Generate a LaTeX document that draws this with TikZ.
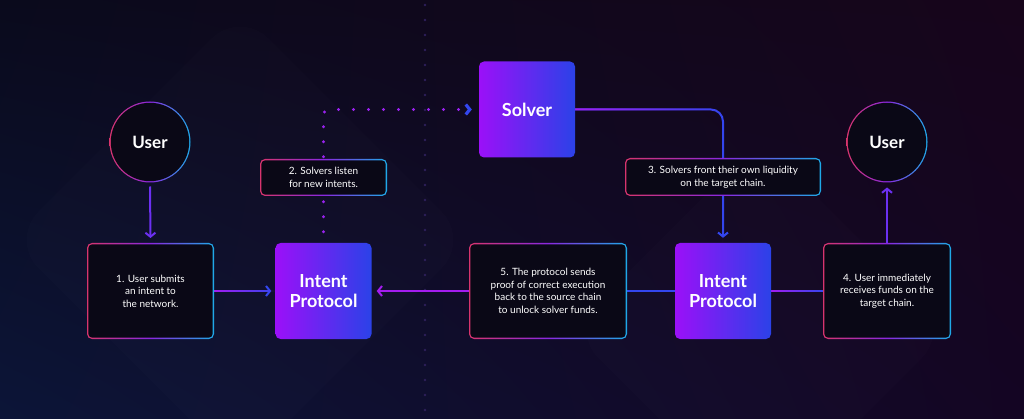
\documentclass[tikz,border=0pt]{standalone}
\usepackage{fontspec}
\setmainfont{Lato}
\usetikzlibrary{arrows.meta,shadings,fadings}

\pgfdeclarelayer{bg}
\pgfdeclarelayer{wires}
\pgfdeclarelayer{rims}
\pgfsetlayers{bg,wires,rims,main}

\definecolor{bgUL}{HTML}{0A0A1C}
\definecolor{bgUR}{HTML}{17051B}
\definecolor{bgLL}{HTML}{0C1538}
\definecolor{bgLR}{HTML}{140523}
\definecolor{cardfill}{HTML}{0A0816}
\definecolor{rimL}{HTML}{D8346E}
\definecolor{rimM}{HTML}{8A28E0}
\definecolor{rimR}{HTML}{1EAAE8}
\definecolor{hubA}{HTML}{9B10F8}
\definecolor{hubB}{HTML}{2B42E8}
\definecolor{wirePurple}{HTML}{A41CF0}
\definecolor{wireBlue}{HTML}{3346EE}
\definecolor{wireViolet}{HTML}{6C30F2}
\definecolor{dotc}{HTML}{9A22F0}
\definecolor{divc}{HTML}{2D1F5A}

\tikzfading[name=fadeout, left color=transparent!0, right color=transparent!100]

\tikzset{
    stepbox/.style={rectangle, inner sep=0pt, outer sep=0pt, align=center, text=white,
        font=\fontsize{10}{12.6}\selectfont},
    hub/.style={rectangle, rounded corners=5pt, minimum width=96pt, minimum height=96pt,
        inner sep=0pt, left color=hubA, right color=hubB, text=white, align=center,
        font=\fontsize{18}{19.5}\selectfont\bfseries},
    person/.style={circle, minimum size=81pt, inner sep=0pt, outer sep=0pt, text=white,
        font=\fontsize{17}{20}\selectfont\bfseries},
    rimshade/.style={left color=rimL, right color=rimR, middle color=rimM},
    wire/.style={line width=2pt},
    glowstart/.style={wire, wirePurple, path fading=fadeout},
    flow/.style={-{Straight Barb[length=4pt,width=10pt,color=#1]}},
    flow/.default=wireBlue,
    dots/.style={dotc, line width=3.2pt, line cap=round, dash pattern=on 0pt off 15pt}
}

\begin{document}
\begin{tikzpicture}[x=1pt, y=-1pt]
    \useasboundingbox (0,0) rectangle (1024,419);
    \begin{pgfonlayer}{bg}
        \shade[upper left=bgUL, upper right=bgUR, lower left=bgLL, lower right=bgLR] (0,0) rectangle (1024,419);
        \fill[white, opacity=.012, rounded corners=40pt] (240,10) -- (470,240) -- (240,470) -- (10,240) -- cycle;
        \fill[white, opacity=.01, rounded corners=40pt] (760,140) -- (950,330) -- (760,520) -- (570,330) -- cycle;
        \draw[divc, line width=2.6pt, line cap=round, dash pattern=on 0pt off 15pt] (425,5) -- (425,419);
    \end{pgfonlayer}

    % nodes
    \node[person] (userL) at (150,142) {User};
    \node[person] (userR) at (887,142) {User};
    \node[stepbox, minimum width=127pt, minimum height=96pt] (step1) at (150.5,291)
        {1. User submits\\an intent to\\the network.};
    \node[hub] (protoL) at (323.5,291) {Intent\\Protocol};
    \node[stepbox, minimum width=127pt, minimum height=37pt] (note2) at (323.5,177.5)
        {2. Solvers listen\\for new intents.};
    \node[hub] (solver) at (527,109.5) {Solver};
    \node[stepbox, minimum width=196pt, minimum height=38pt] (note3) at (723,177)
        {3. Solvers front their own liquidity\\on the target chain.};
    \node[hub] (protoR) at (723,291) {Intent\\Protocol};
    \node[stepbox, minimum width=158pt, minimum height=96pt] (step5) at (548,291)
        {5. The protocol sends\\proof of correct execution\\back to the source chain\\to unlock solver funds.};
    \node[stepbox, minimum width=128pt, minimum height=96pt] (step4) at (887,291)
        {4. User immediately\\receives funds on the\\target chain.};

    % gradient rims
    \begin{pgfonlayer}{rims}
        \foreach \n in {step1,step4,step5,note2,note3} {
            \shade[rimshade, rounded corners=5pt] (\n.south west) rectangle (\n.north east);
            \fill[cardfill, rounded corners=4pt] ([shift={(1.3pt,1.3pt)}]\n.south west)
                rectangle ([shift={(-1.3pt,-1.3pt)}]\n.north east);
        }
        \foreach \n in {userL,userR} {
            \shade[rimshade] (\n) circle (40.5pt);
            \fill[cardfill] (\n) circle (39.2pt);
        }
    \end{pgfonlayer}

    % connectors
    \begin{pgfonlayer}{wires}
        \draw[wire, wireViolet, flow=wireViolet, shorten <=4pt, shorten >=5pt] (userL.south) -- (step1.north);
        \draw[wire, wireBlue, flow, shorten >=4pt] (step1) -- (protoL);
        \draw[glowstart] ([yshift=3pt]step1.east) (step1) -- (protoL);
        \draw[dots, rounded corners=5pt, flow] ([yshift=11pt]protoL.north) |- ([xshift=-7pt]solver.west);
        \draw[wire, wireBlue, flow, rounded corners=12pt, shorten >=5pt] (solver.east) -| (protoR.north);
        \draw[glowstart, rounded corners=12pt] (solver.east) -| (protoR.north);
        \draw[wire, wireBlue] (protoR) -- (step4);
        \draw[glowstart] ([yshift=3pt]protoR.east) (protoR) -- (step4);
        \draw[wire, wireViolet, flow=wireViolet, shorten >=5pt] (step4.north) -- (userR.south);
        \draw[wire, wireBlue] (protoR) -- (step5);
        \draw[wire, wirePurple, flow=wirePurple, shorten >=5pt] (step5) -- (protoL);
    \end{pgfonlayer}
\end{tikzpicture}
\end{document}
